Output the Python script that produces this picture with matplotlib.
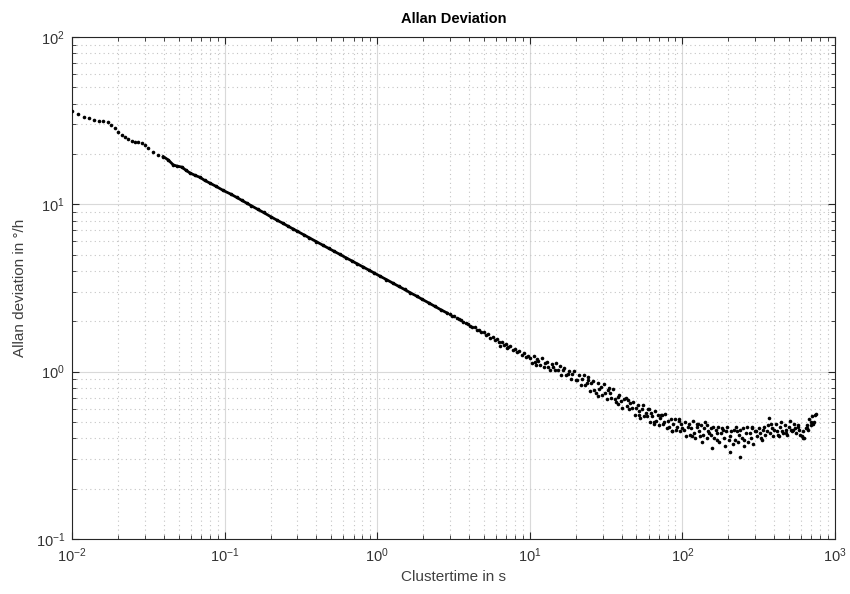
import matplotlib
matplotlib.use("Agg")
import matplotlib.pyplot as plt
from matplotlib.ticker import LogLocator, NullFormatter

plt.rcParams['font.family'] = ['Liberation Sans', 'DejaVu Sans']
plt.rcParams['mathtext.fontset'] = 'custom'
plt.rcParams['mathtext.rm'] = 'Liberation Sans'

# ---- data ----
tau_smooth = [0.0100, 0.0110, 0.0120, 0.0130, 0.0140, 0.0150, 0.0160, 0.0171, 0.0180,
              0.0191, 0.0201, 0.0212, 0.0222, 0.0234, 0.0246, 0.0259, 0.0272, 0.0286,
              0.0301, 0.0316, 0.0341, 0.0368, 0.0396, 0.0428, 0.0461, 0.0490, 0.0524,
              0.0557, 0.0593, 0.064, 0.069, 0.074, 0.080, 0.088, 0.098, 0.11, 0.12, 0.13,
              0.14, 0.15, 0.165, 0.18, 0.20, 0.22, 0.24, 0.26, 0.28, 0.30, 0.33, 0.36,
              0.40, 0.44, 0.48, 0.52, 0.57, 0.62, 0.68, 0.74, 0.81, 0.88, 0.96, 1.05,
              1.15, 1.26, 1.38, 1.51, 1.65, 1.81, 1.98, 2.17, 2.38, 2.60, 2.85]
adev_smooth = [36.3, 34.7, 33.4, 32.7, 32.1, 31.6, 31.5, 30.9, 29.9,
               28.5, 27.0, 26.0, 25.2, 24.6, 24.0, 23.7, 23.5, 23.4,
               22.6, 21.6, 20.5, 19.6, 19.3, 18.4, 17.2, 16.9, 16.7,
               16.0, 15.4, 14.9, 14.5, 13.9, 13.4, 12.8, 12.1, 11.5, 11.0, 10.55,
               10.15, 9.80, 9.33, 8.94, 8.45, 8.05, 7.72, 7.41, 7.14, 6.90, 6.58, 6.30,
               5.98, 5.70, 5.46, 5.25, 5.02, 4.81, 4.60, 4.41, 4.22, 4.05, 3.88, 3.71,
               3.55, 3.39, 3.24, 3.10, 2.96, 2.83, 2.70, 2.58, 2.46, 2.35, 2.25]

tau_mid = [3.00, 3.10, 3.21, 3.32, 3.43, 3.55, 3.67, 3.80, 3.93, 4.06, 4.20, 4.35,
           4.50, 4.65, 4.81, 4.98, 5.15, 5.33, 5.51, 5.70, 5.90, 6.10, 6.31, 6.40,
           6.53, 6.75, 6.98, 7.10, 7.22, 7.47, 7.73, 8.00, 8.27, 8.56, 8.85, 9.16,
           9.47, 9.80]
adev_mid = [2.21, 2.15, 2.14, 2.08, 2.06, 2.04, 1.97, 1.96, 1.94, 1.87, 1.86, 1.84,
            1.78, 1.78, 1.72, 1.73, 1.66, 1.68, 1.60, 1.62, 1.54, 1.56, 1.50, 1.42,
            1.51, 1.44, 1.47, 1.38, 1.40, 1.42, 1.34, 1.37, 1.31, 1.32, 1.26, 1.29,
            1.22, 1.24]

tau_tail = [10.1, 10.4, 10.6, 10.8, 10.9, 11.1, 11.4, 11.7, 12.0, 12.3, 12.6, 12.9,
            13.2, 13.5, 13.9, 14.2, 14.6, 14.9, 15.3, 15.7, 16.0, 16.4, 16.8, 17.3,
            17.7, 18.1, 18.6, 19.0, 19.5, 20.0,
            20.5, 21.0, 21.5, 22.0, 22.5, 23.0, 23.6, 24.1, 24.7, 25.3, 25.9, 26.5,
            27.1, 27.8, 28.4, 29.1, 29.8, 30.5, 31.2, 32.0, 32.7, 33.5, 34.3, 35.1,
            36.0, 36.8, 37.7, 38.6, 39.5, 40.5, 41.4, 42.4, 43.4, 44.4, 45.5, 46.6,
            47.7, 48.8, 50.0,
            51.0, 52.1, 53.1, 54.2, 55.3, 56.4, 57.5, 58.7, 59.9, 61.1, 62.3, 63.5,
            64.8, 66.1, 67.4, 68.7, 70.1, 71.5, 72.9, 74.4, 75.9, 77.4, 78.9, 80.5,
            82.1, 83.8, 85.4, 87.1, 88.9, 90.7, 92.5, 94.3, 96.2, 98.1, 100.0,
            102, 104, 106, 108, 110, 112, 114, 117, 119, 121, 124, 126, 128, 131,
            133, 136, 139, 141, 144, 147, 150, 153, 156, 159, 162, 165, 169, 172,
            175, 179, 182, 186, 190, 193, 197, 201, 205, 209, 213, 217, 222, 226,
            231, 235, 238, 240, 245, 250, 255, 260, 265, 270, 276, 281, 287, 292, 298,
            304, 310, 316, 323, 329, 336, 342, 349, 356, 363, 370, 377, 385, 392,
            400, 408, 416, 424, 433, 441, 450, 459, 468, 477, 487, 496, 506, 516,
            526, 537, 548, 558, 570, 581, 593, 604, 616, 628, 641, 654, 667, 680,
            693, 707, 721, 735, 750]
adev_tail = [1.21, 1.13, 1.24, 1.15, 1.09, 1.19, 1.16, 1.10, 1.20, 1.06, 1.12, 1.14,
             1.07, 1.02, 1.11, 1.07, 1.02, 1.12, 1.03, 1.08, 0.95, 1.03, 1.05, 0.96,
             0.97, 1.01, 0.90, 0.97, 1.01, 0.89,
             0.89, 0.96, 0.83, 0.90, 0.96, 0.83, 0.85, 0.89, 0.77, 0.85, 0.88, 0.78,
             0.75, 0.85, 0.79, 0.81, 0.73, 0.84, 0.75, 0.69, 0.78, 0.75, 0.70, 0.79,
             0.69, 0.66, 0.71, 0.73, 0.67, 0.61, 0.69, 0.70, 0.62, 0.60, 0.65, 0.61,
             0.66, 0.55, 0.61,
             0.63, 0.58, 0.53, 0.60, 0.63, 0.54, 0.57, 0.54, 0.60, 0.50, 0.57, 0.54,
             0.50, 0.58, 0.51, 0.55, 0.48, 0.53, 0.55, 0.49, 0.50, 0.56, 0.46, 0.51,
             0.47, 0.52, 0.44, 0.49, 0.52, 0.45, 0.47, 0.52, 0.44, 0.49, 0.46,
             0.45, 0.50, 0.41, 0.47, 0.49, 0.42, 0.46, 0.51, 0.43, 0.40, 0.47, 0.49,
             0.44, 0.41, 0.48, 0.42, 0.46, 0.50, 0.40, 0.44, 0.43, 0.46, 0.35, 0.47,
             0.40, 0.45, 0.43, 0.47, 0.38, 0.43, 0.46, 0.40, 0.36, 0.44, 0.47, 0.39,
             0.41, 0.44, 0.37, 0.45, 0.39, 0.47, 0.38, 0.42, 0.31, 0.45, 0.40, 0.46,
             0.39, 0.43, 0.47, 0.38, 0.43, 0.40, 0.46, 0.37, 0.44,
             0.44, 0.41, 0.46, 0.43, 0.40, 0.45, 0.47, 0.42, 0.44, 0.48, 0.53, 0.43,
             0.46, 0.41, 0.45, 0.49, 0.44, 0.42, 0.47, 0.50, 0.44, 0.43, 0.48, 0.45,
             0.42, 0.47, 0.51, 0.45, 0.44, 0.49, 0.46, 0.43, 0.47, 0.45, 0.42, 0.41,
             0.44, 0.40, 0.46, 0.48, 0.45, 0.52, 0.50, 0.54, 0.49, 0.55, 0.56]

tau_extra = [24, 28, 33, 38, 44, 52, 60, 65, 73, 85, 95, 115, 125, 135, 145, 155,
             168, 185, 205, 228, 255, 285, 330, 380, 430, 480, 530, 575, 620, 660,
             700, 730]
adev_extra = [0.93, 0.72, 0.80, 0.64, 0.68, 0.55, 0.60, 0.49, 0.55, 0.44, 0.51, 0.41,
              0.49, 0.38, 0.48, 0.42, 0.39, 0.45, 0.33, 0.44, 0.36, 0.47, 0.39, 0.49,
              0.41, 0.43, 0.45, 0.48, 0.40, 0.46, 0.48, 0.50]

x_ticks = [1e-2, 1e-1, 1e0, 1e1, 1e2, 1e3]
y_ticks = [1e-1, 1e0, 1e1, 1e2]

title = "Allan Deviation"
xlabel = "Clustertime in s"
ylabel = "Allan deviation in °/h"

# ---- figure ----
fig = plt.figure(figsize=(8.5, 5.94), dpi=100)
W, H = 850, 594
ax = fig.add_axes([72 / W, (H - 539) / H, (835 - 72) / W, (539 - 37) / H])

dot = dict(linestyle='none', marker='o', ms=2.6, mew=0, color='black')
ax.plot(tau_smooth[22:], adev_smooth[22:], '-', color='black', lw=2.0, zorder=3)
ax.plot(tau_smooth, adev_smooth, zorder=4, **dot)
ax.plot(tau_mid, adev_mid, zorder=4, **dot)
ax.plot(tau_tail, adev_tail, zorder=4, **dot)
ax.plot(tau_extra, adev_extra, zorder=4, **dot)

ax.set_xscale('log')
ax.set_yscale('log')
ax.set_xlim(1e-2, 1e3)
ax.set_ylim(1e-1, 1e2)
ax.set_xticks(x_ticks)
ax.set_yticks(y_ticks)
ax.xaxis.set_minor_locator(LogLocator(base=10, subs=range(2, 10), numticks=100))
ax.yaxis.set_minor_locator(LogLocator(base=10, subs=range(2, 10), numticks=100))
ax.xaxis.set_minor_formatter(NullFormatter())
ax.yaxis.set_minor_formatter(NullFormatter())

ax.grid(True, which='major', color='#d9d9d9', lw=0.8, ls='-')
ax.grid(True, which='minor', color='#c4c4c4', lw=0.8, ls=(0, (1, 3)))
ax.set_axisbelow(True)

tc = '#262626'
for s in ax.spines.values():
    s.set_color(tc)
    s.set_linewidth(0.8)
ax.tick_params(which='both', direction='in', top=True, right=True, colors=tc,
               labelcolor='#333333')
ax.tick_params(which='major', length=5, width=0.8, labelsize=10.5, pad=5)
ax.tick_params(which='minor', length=3, width=0.6)

ax.set_title(title, fontsize=10.5, fontweight='bold', color='black', pad=10)
ax.set_xlabel(xlabel, fontsize=11, color='#404040', labelpad=4)
ax.set_ylabel(ylabel, fontsize=11, color='#404040', labelpad=6)

fig.savefig('out.png', dpi=100, facecolor='white')
